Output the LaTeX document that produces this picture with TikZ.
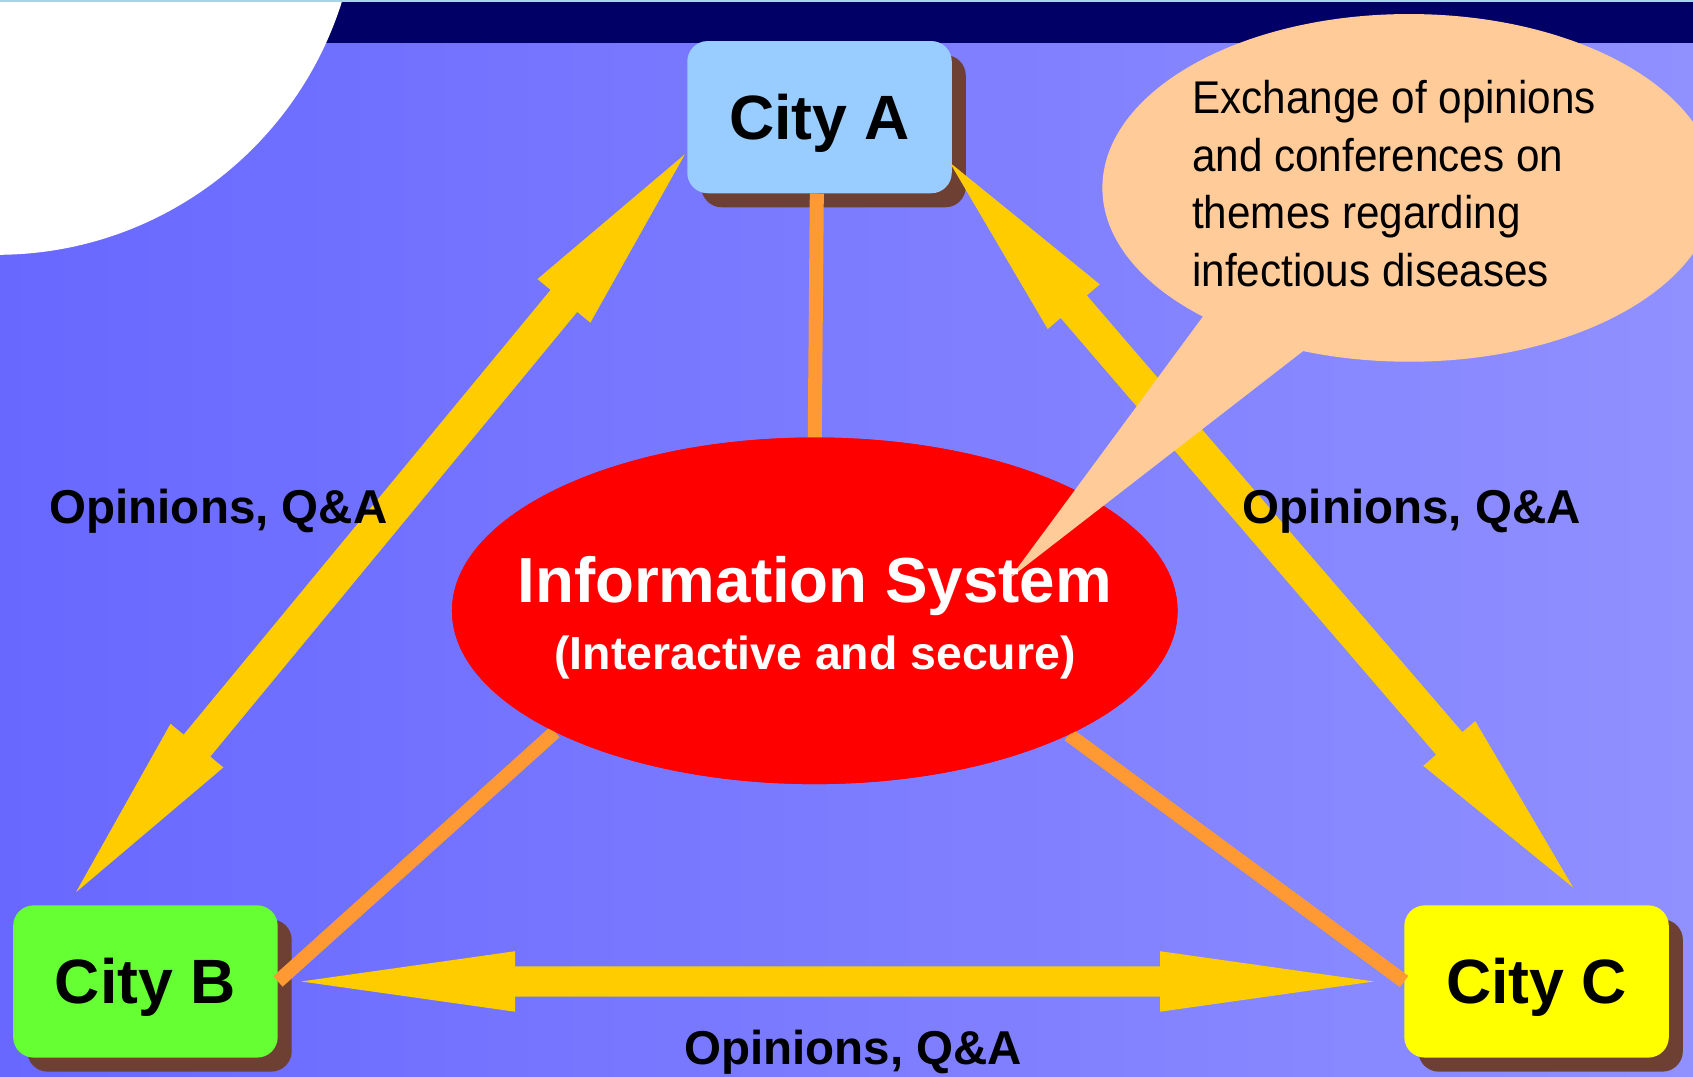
\documentclass[tikz,border=0pt]{standalone}
\usepackage{fontspec}
\setmainfont{Liberation Sans}
\newfontfamily\narrowsans{Liberation Sans}[FakeStretch=0.92]
\usetikzlibrary{shapes.geometric,shadows,calc}
\definecolor{bgleft}{HTML}{6868FF}
\definecolor{bgright}{HTML}{9090FF}
\definecolor{navyband}{HTML}{000066}
\definecolor{toplinec}{HTML}{A8D4E4}
\definecolor{shadowc}{HTML}{6E3F33}
\definecolor{cityAc}{HTML}{99CCFF}
\definecolor{cityBc}{HTML}{66FF33}
\definecolor{cityCc}{HTML}{FFFF00}
\definecolor{linkorange}{HTML}{FF9933}
\definecolor{arrowyellow}{HTML}{FFCC00}
\definecolor{bubblec}{HTML}{FFCC99}
\definecolor{infored}{HTML}{FF0000}
\tikzset{
  citybox/.style={rectangle, rounded corners=19pt, minimum width=245pt, minimum height=141pt,
    inner sep=0pt, text height=41.5pt, text depth=0pt,
    font=\fontsize{58pt}{58pt}\selectfont\bfseries,
    general shadow={fill=shadowc, shadow xshift=13pt, shadow yshift=-13pt}},
  linkline/.style={draw=linkorange, line width=13pt, line cap=butt},
  arrowfill/.style={fill=arrowyellow},
  infoell/.style={ellipse, fill=infored, minimum width=672pt, minimum height=321pt, inner sep=0pt},
  bubbleell/.style={ellipse, fill=bubblec, minimum width=568pt, minimum height=322pt, inner sep=0pt},
  qalabel/.style={inner sep=0pt, font=\fontsize{44pt}{44pt}\selectfont\bfseries},
}
\newcommand{\dblarrow}[5]{%
  \coordinate (dbP) at ($(#1)!#5!(#2)$);
  \coordinate (dbQ) at ($(#2)!#5!(#1)$);
  \fill[arrowfill] (#1)
    -- ($(dbP)!#4!90:(#2)$) -- ($(dbP)!#3!90:(#2)$)
    -- ($(dbQ)!#3!-90:(#1)$) -- ($(dbQ)!#4!-90:(#1)$)
    -- (#2)
    -- ($(dbQ)!#4!90:(#1)$) -- ($(dbQ)!#3!90:(#1)$)
    -- ($(dbP)!#3!-90:(#2)$) -- ($(dbP)!#4!-90:(#2)$)
    -- cycle;}
\begin{document}
\begin{tikzpicture}[x=1pt,y=-1pt]
\useasboundingbox (0,0) rectangle (1568,996.6);
\clip (0,0) rectangle (1568,996.6);
% background
\shade[left color=bgleft, right color=bgright] (0,0) rectangle (1568,996.6);
\fill[navyband] (0,0) rectangle (1568,40);
\fill[white] (-3,-99) circle[radius=335pt];
\fill[toplinec] (0,0) rectangle (1568,1.5);
% city boxes
\node[citybox, fill=cityAc] (cityA) at (759,108.5) {City A};
\node[citybox, fill=cityBc] (cityB) at (134.7,909) {City B};
\node[citybox, fill=cityCc] (cityC) at (1423.1,909) {City C};
% information system
\node[infoell] (info) at (754.6,565.7) {};
% orange links
\draw[linkline] ([xshift=-2.5pt]cityA.south) -- (info.north);
\draw[linkline] (cityB.east) -- (info.205.7);
\draw[linkline] (cityC.west) -- (info.334.1);
\node[infoell] at (info.center) {};
% yellow double arrows
\coordinate (abA) at (634.3,142.9);
\coordinate (abB) at (70.4,826.3);
\coordinate (acA) at (879.7,150.6);
\coordinate (acC) at (1457,822);
\coordinate (bcB) at (279,909);
\coordinate (bcC) at (1272.5,909);
\dblarrow{abA}{abB}{16pt}{31.75pt}{176pt}
\dblarrow{acA}{acC}{16pt}{31.75pt}{176pt}
\dblarrow{bcB}{bcC}{14pt}{28pt}{198pt}
% speech bubble
\node[bubbleell] (bubble) at (1305,174) {};
\coordinate (tailtip) at (935.3,535.5);
\fill[bubblec] (bubble.212.7) -- (tailtip) -- (bubble.237.6) -- (bubble.center) -- cycle;
% texts
\node[anchor=base, inner sep=0pt, text=white, font=\fontsize{59pt}{59pt}\selectfont\bfseries] (infotitle) at (754.6,558) {Information System};
\node[anchor=base, inner sep=0pt, text=white, font=\fontsize{43pt}{43pt}\selectfont\bfseries] (infosub) at (754.9,620.4) {(Interactive and secure)};
\node[anchor=base west, align=left, inner sep=0pt, font=\narrowsans\fontsize{42.5pt}{53.5pt}\selectfont] (bubbletext) at (1104,265.5) {Exchange of opinions\\and conferences on\\themes regarding\\infectious diseases};
\node[qalabel, anchor=base west] (labAB) at (45.7,485) {Opinions, Q\&A};
\node[qalabel, anchor=base west] (labAC) at (1151,485) {Opinions, Q\&A};
\node[qalabel, anchor=base] (labBC) at (790.3,986) {Opinions, Q\&A};
\end{tikzpicture}
\end{document}
